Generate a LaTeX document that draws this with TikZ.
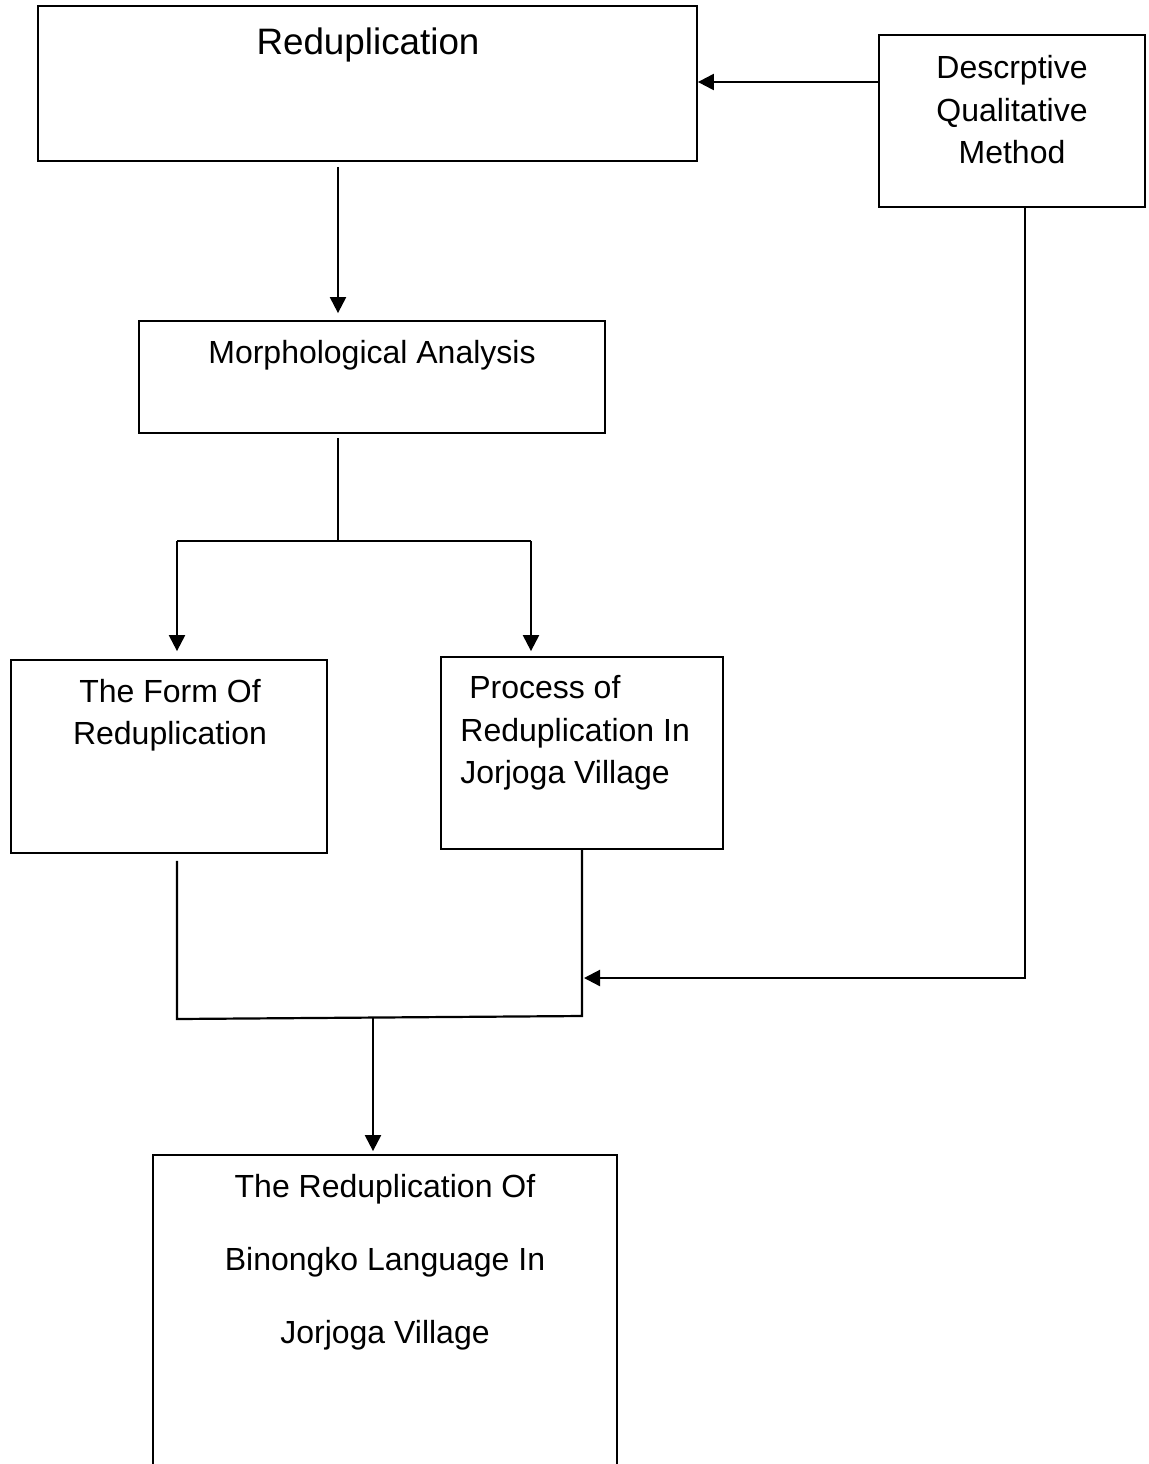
\documentclass[tikz,border=0pt]{standalone}
\usepackage{fontspec}
\setmainfont{Liberation Sans}
\usetikzlibrary{arrows.meta}

\tikzset{
  box/.style={draw, line width=0.9pt, inner sep=0pt},
  txt/.style={align=center, inner sep=0pt, font=\fontsize{16}{21.25}\selectfont},
  arr/.style={line width=1.1pt, -{Triangle[length=8pt,width=8pt]}},
  ln/.style={line width=1.1pt},
}

\begin{document}
\begin{tikzpicture}[x=0.5pt, y=-0.5pt]
        \clip (0,0) rectangle (1149,1464);          % page size
        % boxes
        \node[box, minimum width=329.5pt, minimum height=77.5pt] (redup) at (367.5,83.5) {};
        \node[box, minimum width=133pt, minimum height=86pt] (desc) at (1012,121) {};
        \node[box, minimum width=233pt, minimum height=56pt] (morph) at (372,377) {};
        \node[box, minimum width=158pt, minimum height=96.5pt] (form) at (169,756.5) {};
        \node[box, minimum width=141pt, minimum height=96pt] (proc) at (582,753) {};
        \node[box, minimum width=232pt, minimum height=172.5pt] (final) at (385,1327.5) {};
        % texts
        \node[txt, font=\fontsize{18.4}{22}\selectfont] (redup-txt) at (368,45) {Reduplication};
        \node[txt] (desc-txt) at (1012,110) {Descrptive\\Qualitative\\Method};
        \node[txt] (morph-txt) at (372,355) {Morphological Analysis};
        \node[txt] (form-txt) at (170,715) {The Form Of\\Reduplication};
        \node[txt, align=left, anchor=west] (proc-txt) at (460,733) {\ Process of\\Reduplication In\\Jorjoga Village};
        \node[txt, font=\fontsize{16}{36.5}\selectfont] (final-txt) at (385,1262) {The Reduplication Of\\Binongko Language In\\Jorjoga Village};
        % branch points
        \coordinate (split) at (338,541);
        \coordinate (fl) at (177,541);
        \coordinate (fr) at (531,541);
        \coordinate (jl) at (177,1019);
        \coordinate (jr) at (582,1016);
        \coordinate (join) at (373,1018);
        \coordinate (dturn) at (1025,978);
        % connectors
        \draw[arr] (desc.west |- 0,82) -- (redup.east |- 0,82);
        \draw[arr, shorten <=2.5pt, shorten >=3.5pt] (split |- redup.south) -- (split |- morph.north);
        \draw[ln, shorten <=2pt] (split |- morph.south) -- (split);
        \draw[ln] (fl) -- (fr);
        \draw[arr, shorten >=4pt] (fl) -- (fl |- form.north);
        \draw[arr, shorten >=2.5pt] (fr) -- (fr |- proc.north);
        \draw[ln, shorten <=3.5pt] (jl |- form.south) -- (jl) -- (jr) -- (proc.south);
        \draw[arr, shorten >=1.5pt] (join) -- (join |- final.north);
        \draw[arr, shorten >=1pt] (dturn |- desc.south) -- (dturn) -- (proc.south |- dturn);
    \end{tikzpicture}
\end{document}
